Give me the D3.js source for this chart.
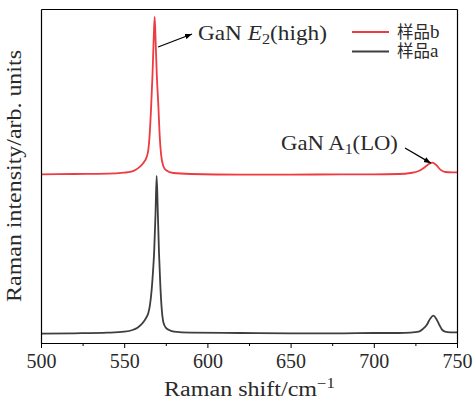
<!DOCTYPE html>
<html><head><meta charset="utf-8">
<script src="https://cdn.jsdelivr.net/npm/d3@7"></script>
<style>body{margin:0;background:#fff}</style>
</head><body><svg id="c" width="473" height="402" xmlns="http://www.w3.org/2000/svg"></svg>
<script>
// Sample a (dark curve)
const waveA = [500, 520, 540, 550, 555, 558, 560, 562, 563.5, 564.5, 565.5, 566.5, 567.3, 568, 568.8, 569.5, 570.2, 570.9, 571.7, 572.5, 573.5, 575, 577, 580, 590, 620, 650, 680, 700, 715, 722, 727, 729.5, 731.8, 733.8, 735.8, 737.6, 739.4, 741, 742.8, 746, 750];
const intensityA = [28, 29, 31, 34, 39, 46, 54, 66, 78, 90, 114, 159, 213, 272, 383, 500, 392, 272, 174, 105, 63, 46, 39, 34, 31, 30, 29, 29, 30, 30, 31, 34, 42, 54, 72, 82, 72, 54, 40, 34, 32, 32];
// Sample b (red curve)
const waveB = [500, 520, 540, 550, 553.5, 557, 559.5, 561.5, 563.5, 564.5, 565.3, 566.1, 567, 567.7, 568.3, 568.9, 569.6, 570.5, 571.3, 572.2, 573.5, 575, 579.5, 590, 620, 650, 680, 700, 715, 722, 727, 730, 732.5, 735.2, 737.5, 740, 743, 747, 750];
const intensityB = [505, 506, 507, 510, 512, 519, 528, 539, 557, 578, 623, 698, 802, 907, 976, 901, 802, 713, 623, 563, 530, 518, 509, 506, 504, 504, 505, 505, 506, 509, 515, 524, 534, 540, 533, 519, 512, 511, 511];
const xMajorTicks = [500, 550, 600, 650, 700, 750];
const xMinorTicks = [525, 575, 625, 675, 725];
const seriesNames = ["样品b", "样品a"];
const seriesColors = ["#ee3b40", "#3e3e3e"];
// annotation anchors (data coords)
const peakE2 = [568.3, 976];
const peakA1 = [735.2, 540];

const svg = d3.select("#c");
const L = 41, R = 457, T = 9, B = 343;
const x = d3.scaleLinear().domain([500, 750]).range([L, R]);
const y = d3.scaleLinear().domain([0, 1000]).range([B, T]);
const serif = "'Liberation Serif','Times New Roman',serif";
const ink = "#2a2a2a";

const defs = svg.append("defs");
defs.append("marker").attr("id", "ah").attr("viewBox", "0 0 10 10")
  .attr("refX", 10).attr("refY", 5).attr("markerWidth", 7).attr("markerHeight", 7)
  .attr("markerUnits", "userSpaceOnUse").attr("orient", "auto")
  .append("path").attr("d", "M0,1 L10,5 L0,9 Z").attr("fill", "#000");

const line = d3.line().x(d => x(d[0])).y(d => y(d[1])).curve(d3.curveMonotoneX);
const dataB = waveB.map((w, i) => [w, intensityB[i]]);
const dataA = waveA.map((w, i) => [w, intensityA[i]]);
svg.append("path").attr("d", line(dataA)).attr("fill", "none").attr("stroke", seriesColors[1]).attr("stroke-width", 1.8);
svg.append("path").attr("d", line(dataB)).attr("fill", "none").attr("stroke", seriesColors[0]).attr("stroke-width", 1.8);

// axes
const gx = svg.append("g").attr("transform", `translate(0,${B})`)
  .call(d3.axisBottom(x).tickValues(xMajorTicks).tickSize(5).tickSizeOuter(0).tickPadding(6).tickFormat(d3.format("d")));
gx.selectAll("text").attr("font-family", serif).attr("font-size", 20).attr("fill", ink);
const gxm = svg.append("g").attr("transform", `translate(0,${B})`)
  .call(d3.axisBottom(x).tickValues(xMinorTicks).tickSize(3).tickSizeOuter(0).tickFormat(""));
gxm.select(".domain").remove();
svg.append("g").attr("transform", `translate(0,${T})`).call(d3.axisTop(x).tickValues([]).tickSizeOuter(0));
svg.append("g").attr("transform", `translate(${L},0)`).call(d3.axisLeft(y).tickValues([]).tickSizeOuter(0));
svg.append("g").attr("transform", `translate(${R},0)`).call(d3.axisRight(y).tickValues([]).tickSizeOuter(0));
svg.selectAll(".domain").attr("stroke", "#000").attr("stroke-width", 1.2);
svg.selectAll(".tick line").attr("stroke", "#000").attr("stroke-width", 1);

function fit(t, target) {
  const w = t.node().getComputedTextLength();
  t.attr("transform", `scale(${target / w},1)`);
}

// x title
const xt = svg.append("g").attr("transform", `translate(249.5,396)`)
  .append("text").attr("font-family", serif).attr("font-size", 20).attr("text-anchor", "middle").attr("fill", ink);
xt.append("tspan").text("Raman shift/cm");
xt.append("tspan").attr("dy", -8).attr("font-size", 14).text("−1");
fit(xt, 171);

// y title
const yt = svg.append("g").attr("transform", `translate(21,176) rotate(-90)`)
  .append("text").attr("font-family", serif).attr("font-size", 20).attr("text-anchor", "middle").attr("fill", ink)
  .text("Raman intensity/arb. units");
fit(yt, 252);

// annotations
const e2 = svg.append("g").attr("transform", `translate(198,39.5)`)
  .append("text").attr("font-family", serif).attr("font-size", 20).attr("fill", ink);
e2.append("tspan").text("GaN ");
e2.append("tspan").attr("font-style", "italic").text("E");
e2.append("tspan").attr("dy", 4).attr("font-size", 14).text("2");
e2.append("tspan").attr("dy", -4).text("(high)");
fit(e2, 129);
svg.append("line").attr("x1", x(peakE2[0]) + 3.5).attr("y1", y(peakE2[1]) + 30)
  .attr("x2", 192).attr("y2", 34).attr("stroke", "#000").attr("stroke-width", 1.3).attr("marker-end", "url(#ah)");

const a1 = svg.append("g").attr("transform", `translate(281,150)`)
  .append("text").attr("font-family", serif).attr("font-size", 20).attr("fill", ink);
a1.append("tspan").text("GaN A");
a1.append("tspan").attr("dy", 4).attr("font-size", 14).text("1");
a1.append("tspan").attr("dy", -4).text("(LO)");
fit(a1, 117);
svg.append("line").attr("x1", 405).attr("y1", 148)
  .attr("x2", x(peakA1[0]) - 1.5).attr("y2", y(peakA1[1]) + 0.5).attr("stroke", "#000").attr("stroke-width", 1.3).attr("marker-end", "url(#ah)");

// legend
const lg = svg.append("g");
seriesNames.forEach((n, i) => {
  const yy = 32 + i * 19.5;
  lg.append("line").attr("x1", 352).attr("x2", 389).attr("y1", yy).attr("y2", yy)
    .attr("stroke", seriesColors[i]).attr("stroke-width", 1.8);
  const t = lg.append("text").attr("x", 397).attr("y", yy + 5.5).attr("font-family", "'Liberation Serif','Noto Sans CJK SC',serif")
    .attr("font-size", 16.5).attr("fill", ink);
  t.append("tspan").text(n.slice(0, 2));
  t.append("tspan").attr("font-size", 19).text(n.slice(2));
});
</script></body></html>
